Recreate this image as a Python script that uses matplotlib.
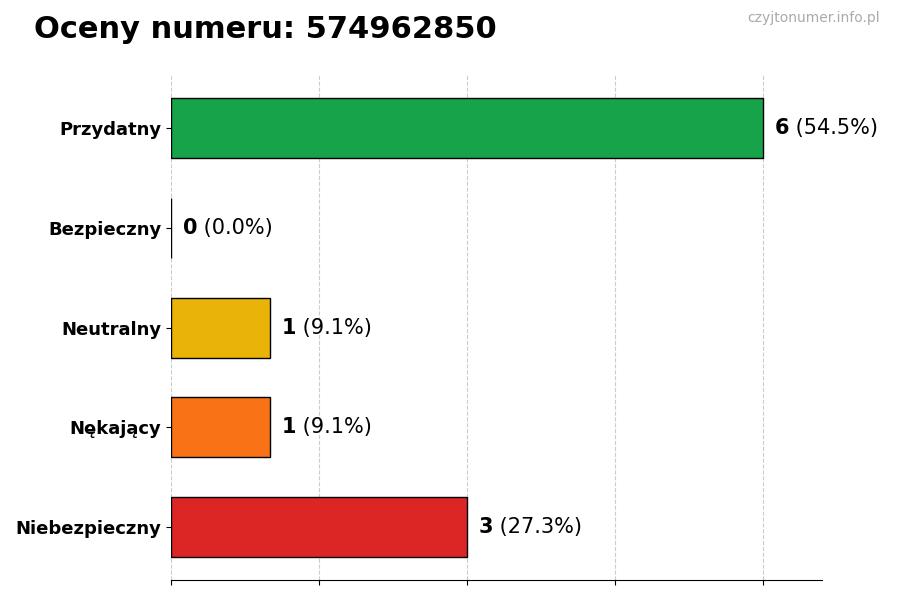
import matplotlib
matplotlib.use("Agg")
import matplotlib.pyplot as plt

categories = ["Przydatny", "Bezpieczny", "Neutralny", "Nękający", "Niebezpieczny"]
counts = [6, 0, 1, 1, 3]
percents = ["(54.5%)", "(0.0%)", "(9.1%)", "(9.1%)", "(27.3%)"]
colors = ["#16a34a", "#16a34a", "#eab308", "#f97316", "#dc2626"]

fig = plt.figure(figsize=(9, 6), dpi=100)
ax = fig.add_axes([0.19, 0.033, 0.723, 0.842])
ypos = list(range(len(categories)))[::-1]
ax.barh(ypos, counts, height=0.6, color=colors, edgecolor="black", linewidth=1)
ax.set_xlim(0, 6.6)
ax.set_ylim(-0.53, 4.53)
ax.set_xticks([0, 1.5, 3, 4.5, 6])
ax.set_xticklabels([])
ax.set_yticks(ypos)
ax.set_yticklabels(categories, fontsize=13, fontweight="bold")
ax.grid(axis="x", linestyle="--", color="#cccccc", linewidth=0.8)
ax.set_axisbelow(True)
for s in ["top", "right", "left"]:
    ax.spines[s].set_visible(False)
for y, c, p in zip(ypos, counts, percents):
    t = ax.text(c + 0.12, y, str(c), fontsize=15, fontweight="bold", va="center", ha="left")
    ax.annotate(" " + p, xy=(1, 0.5), xycoords=t, va="center", ha="left", fontsize=15)
fig.text(0.038, 0.95, "Oceny numeru: 574962850", fontsize=22, fontweight="bold", va="center")
fig.text(0.978, 0.97, "czyjtonumer.info.pl", fontsize=10, color="#aaaaaa", ha="right", va="center")
fig.savefig("out.png", dpi=100)
